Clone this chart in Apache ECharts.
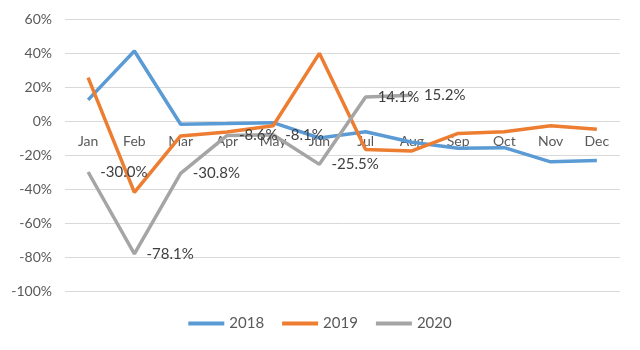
<!DOCTYPE html>
<html>
<head>
<meta charset="utf-8">
<script src="https://cdn.jsdelivr.net/npm/echarts@6/dist/echarts.min.js"></script>
<style>
  html, body { margin: 0; padding: 0; background: #fff; }
  #chart { width: 640px; height: 350px; }
</style>
</head>
<body>
<div id="chart"></div>
<script>
var months = ['Jan', 'Feb', 'Mar', 'Apr', 'May', 'Jun', 'Jul', 'Aug', 'Sep', 'Oct', 'Nov', 'Dec'];
var data2018 = [12.4, 41.2, -1.9, -1.5, -1.0, -10.0, -6.3, -12.5, -16.0, -15.7, -24.0, -23.3];
var data2019 = [25.5, -42.0, -8.8, -6.5, -2.8, 39.8, -16.7, -17.6, -7.3, -6.3, -2.8, -4.9];
var data2020 = [-30.0, -78.1, -30.8, -8.6, -8.1, -25.5, 14.1, 15.2];
var yTicks = { min: -100, max: 60, step: 20 };

var colors = ['#5B9BD5', '#ED7D31', '#A5A5A5'];
var fontName = 'Lato';

// grid box: top 19, bottom 291 -> zero line sits 170px above the bottom
var gridTop = 19, gridBottom = 59, plotH = 350 - gridTop - gridBottom;
var zeroOffset = -plotH * (0 - yTicks.min) / (yTicks.max - yTicks.min);

var myChart = echarts.init(document.getElementById('chart'));
myChart.setOption({
    color: colors,
    animation: false,
    grid: { left: 65, right: 20, top: gridTop, bottom: gridBottom },
    legend: {
        bottom: 14,
        left: 'center',
        icon: 'rect',
        itemWidth: 36,
        itemHeight: 4,
        itemGap: 18,
        textStyle: { color: '#595959', fontSize: 15, fontFamily: fontName },
        data: ['2018', '2019', '2020']
    },
    xAxis: {
        type: 'category',
        data: months,
        boundaryGap: true,
        position: 'bottom',
        offset: zeroOffset,
        axisLine: { show: false, onZero: false },
        axisTick: { show: false },
        axisLabel: { color: '#595959', fontSize: 14, fontFamily: fontName, margin: 13 }
    },
    yAxis: {
        type: 'value',
        min: yTicks.min,
        max: yTicks.max,
        interval: yTicks.step,
        axisLine: { show: false },
        axisTick: { show: false },
        splitLine: { lineStyle: { color: '#d9d9d9', width: 1 } },
        axisLabel: { color: '#595959', fontSize: 14, fontFamily: fontName, margin: 13,
            formatter: '{value}%' }
    },
    series: [
        {
            name: '2018', type: 'line', data: data2018,
            showSymbol: false, symbol: 'none',
            lineStyle: { width: 3.5, color: colors[0] }
        },
        {
            name: '2019', type: 'line', data: data2019,
            showSymbol: false, symbol: 'none',
            lineStyle: { width: 3.5, color: colors[1] }
        },
        {
            name: '2020', type: 'line', data: data2020,
            symbol: 'circle', symbolSize: 0.1, showSymbol: true,
            itemStyle: { color: colors[2] },
            lineStyle: { width: 3.5, color: colors[2] },
            label: {
                show: true,
                position: 'right',
                distance: 12,
                color: '#404040',
                fontSize: 15,
                fontFamily: fontName,
                formatter: function (p) { return p.value.toFixed(1) + '%'; }
            }
        }
    ]
});
</script>
</body>
</html>
